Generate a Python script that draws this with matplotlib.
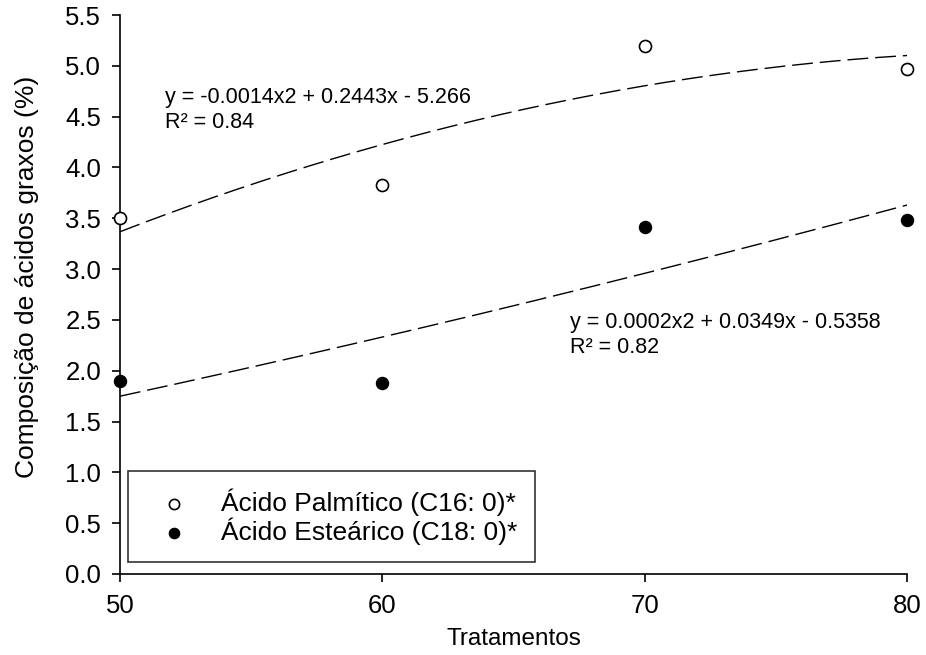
import matplotlib.pyplot as plt
import numpy as np

plt.rcParams['font.family'] = ['Liberation Sans', 'DejaVu Sans']

# Dados
tratamentos = np.array([50, 60, 70, 80])
palmitico = np.array([3.50, 3.83, 5.20, 4.97])
estearico = np.array([1.90, 1.88, 3.41, 3.48])

eq_palm = 'y = -0.0014x2 + 0.2443x - 5.266\nR² = 0.84'
eq_est = 'y = 0.0002x2 + 0.0349x - 0.5358\nR² = 0.82'

fig = plt.figure(figsize=(9.26, 6.55), dpi=100)
ax = fig.add_axes([0.1296, 0.1237, 0.8499, 0.8533])

# Curvas de tendência (polinomial de 2a ordem)
xs = np.linspace(50, 80, 200)
for y in (palmitico, estearico):
    c = np.polyfit(tratamentos, y, 2)
    ax.plot(xs, np.polyval(c, xs), color='black', lw=1, dashes=(15, 5))

ax.scatter(tratamentos, palmitico, s=75, facecolor='white', edgecolor='black',
           linewidth=1.2, zorder=3, clip_on=False, label='Ácido Palmítico (C16: 0)*')
ax.scatter(tratamentos, estearico, s=75, facecolor='black', edgecolor='black',
           zorder=3, clip_on=False, label='Ácido Esteárico (C18: 0)*')

ax.text(51.72, 4.57, eq_palm, fontsize=15.5, va='center', linespacing=1.25)
ax.text(67.15, 2.35, eq_est, fontsize=15.5, va='center', linespacing=1.25)

ax.set_xlim(50, 80)
ax.set_ylim(0, 5.5)
ax.set_xticks([50, 60, 70, 80])
ax.set_yticks(np.arange(0, 5.51, 0.5))
ax.yaxis.set_major_formatter(plt.FormatStrFormatter('%.1f'))
ax.tick_params(labelsize=18.5, length=5.5, width=1.2, direction='out')
ax.tick_params(axis='y', pad=8)
ax.tick_params(axis='x', pad=9)
for s in ('top', 'right'):
    ax.spines[s].set_visible(False)
for s in ('left', 'bottom'):
    ax.spines[s].set_linewidth(1.2)

ax.set_xlabel('Tratamentos', fontsize=17.5, labelpad=7)
ax.set_ylabel('Composição de ácidos graxos (%)', fontsize=19)
ax.yaxis.set_label_coords(-0.103, 0.532)

leg = ax.legend(loc='lower left', bbox_to_anchor=(0.0102, 0.0215), fontsize=19,
                frameon=True, fancybox=False, edgecolor='black', borderpad=0.65,
                handlelength=2.15, handletextpad=0.73, labelspacing=0.05,
                borderaxespad=0, markerscale=0.85)
leg.get_frame().set_linewidth(1.2)

fig.savefig('out.png', dpi=100)
